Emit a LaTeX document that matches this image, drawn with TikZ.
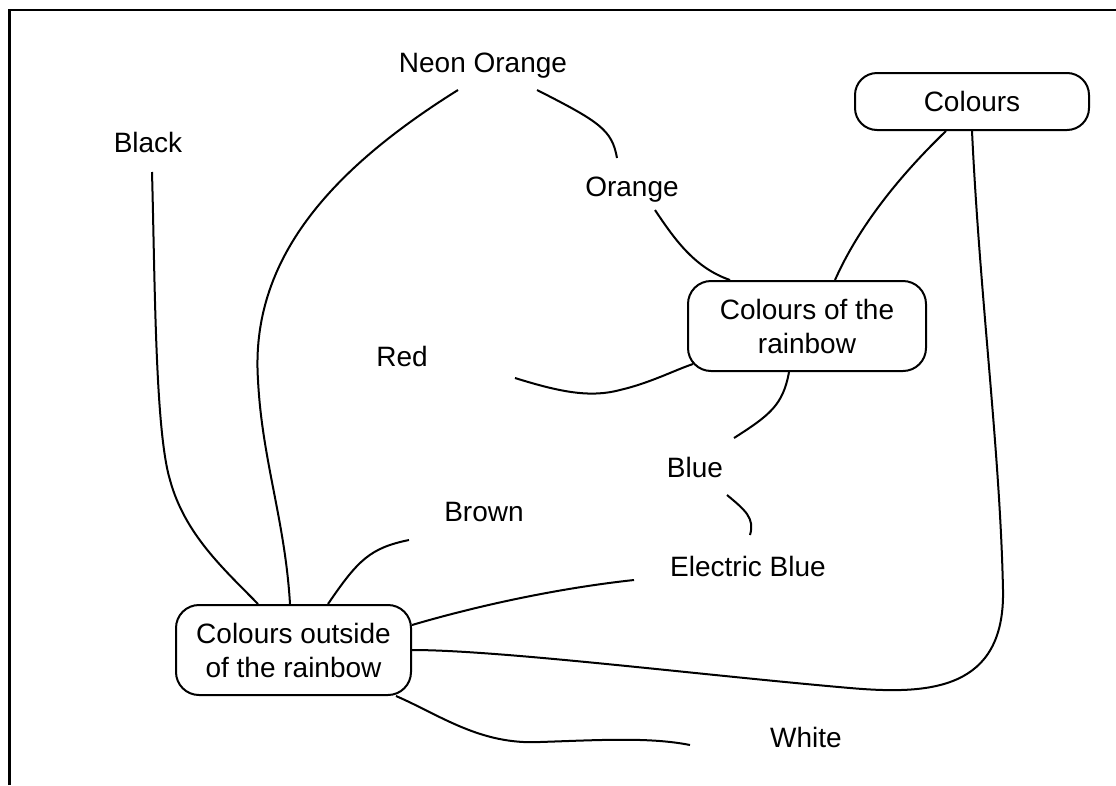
\documentclass[tikz,border=0pt]{standalone}
\usepackage{fontspec}
\setmainfont{Liberation Sans}
\usetikzlibrary{calc}
\begin{document}
\begin{tikzpicture}[x=1pt,y=-1pt,
  lbl/.style={font=\fontsize{28}{34}\selectfont, inner sep=0pt, anchor=base},
  box/.style={draw, line width=2pt, rounded corners=23pt, align=center,
    font=\fontsize{28}{34}\selectfont, inner sep=0pt},
  conn/.style={line width=2pt}]
\useasboundingbox (0,0) rectangle (1116,785);
\draw[line width=2.5pt] (9.5,785) -- (9.5,10) -- (1116,10);

% boxes
\node[box, minimum width=234pt, minimum height=57pt, rounded corners=22pt] (colours) at (972,101.5) {Colours};
\node[box, minimum width=238pt, minimum height=90pt] (rainbow) at (807,326) {Colours of the\\rainbow};
\node[box, minimum width=235pt, minimum height=90pt] (outside) at (293.5,650) {Colours outside\\of the rainbow};

% labels
\node[lbl] (neon) at (483,72) {Neon Orange};
\node[lbl] (orange) at (632,196) {Orange};
\node[lbl] (black) at (148,152) {Black};
\node[lbl] (red) at (402,366) {Red};
\node[lbl] (blue) at (695,477) {Blue};
\node[lbl] (brown) at (484,521) {Brown};
\node[lbl] (electric) at (748,576) {Electric Blue};
\node[lbl] (white) at (806,747) {White};

% connectors
\draw[conn] ($(neon.base)+(-25,18)$) .. controls (330,170) and (250,260) .. (258,380)
  .. controls (262,460) and (285,520) .. ($(outside.north)+(-3.5,0)$);
\draw[conn] ($(neon.base)+(54,18)$) .. controls (600,122) and (612,130) .. ($(orange.base)+(-15,-38)$);
\draw[conn] ($(orange.base)+(23,14)$) .. controls (675,240) and (695,268) .. ($(rainbow.north)+(-77,0)$);
\draw[conn] ($(colours.south)+(-26,0)$) .. controls (890,185) and (855,235) .. ($(rainbow.north)+(28,0)$);
\draw[conn] (colours.south) .. controls (980,300) and (1000,450) .. (1003,590)
  .. controls (1005,690) and (930,695) .. (850,688)
  .. controls (700,675) and (500,650) .. (outside.east);
\draw[conn] ($(red.base)+(113,12)$) .. controls (560,392) and (590,398) .. (620,390)
  .. controls (650,383) and (675,370) .. ($(rainbow.center)+(-114,38)$);
\draw[conn] ($(rainbow.south)+(-18,0)$) .. controls (783,405) and (770,415) .. ($(blue.base)+(39,-39)$);
\draw[conn] ($(blue.base)+(32,18)$) .. controls (745,510) and (755,518) .. ($(electric.base)+(2,-41)$);
\draw[conn] ($(brown.base)+(-75,19)$) .. controls (370,548) and (358,560) .. ($(outside.north)+(34.5,0)$);
\draw[conn] ($(black.base)+(4,20)$) .. controls (155,280) and (155,430) .. (170,480)
  .. controls (185,535) and (225,570) .. ($(outside.north)+(-35.5,0)$);
\draw[conn] ($(electric.base)+(-114,4)$) .. controls (560,588) and (480,605) .. ($(outside.east)+(0,-25)$);
\draw[conn] ($(outside.south)+(102.5,0)$) .. controls (440,715) and (480,745) .. (540,742)
  .. controls (600,740) and (650,737) .. ($(white.base)+(-116,-2)$);
\end{tikzpicture}
\end{document}
